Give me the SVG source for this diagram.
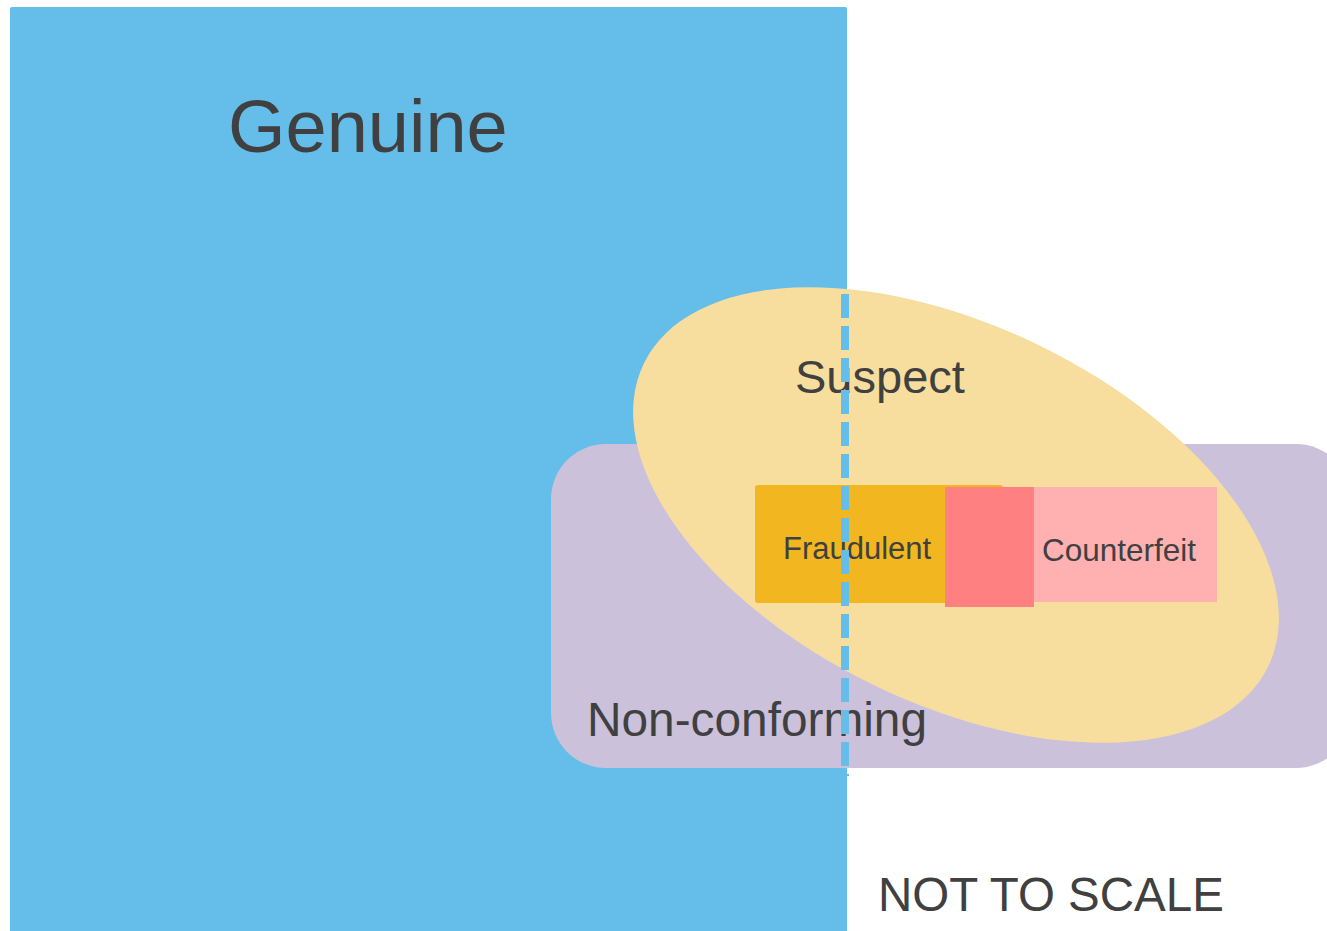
<svg xmlns="http://www.w3.org/2000/svg" width="1327" height="931" viewBox="0 0 1327 931">
<style>
.lbl{font-family:"Liberation Sans",Arial,sans-serif;fill:#404040}
</style>
<rect width="1327" height="931" fill="#ffffff"/>
<g id="genuine">
<rect x="10" y="7" width="837" height="930" rx="2" fill="#65BDE9"/>
<text class="lbl" x="228" y="152" font-size="74">Genuine</text>
</g>
<g id="nonconforming">
<rect x="551" y="444" width="800" height="324" rx="55" fill="#CBC1DB"/>
</g>
<g id="suspect">
<ellipse cx="956" cy="515" rx="347" ry="189" transform="rotate(25.9 956 515)" fill="#F7DE9E"/>
<text class="lbl" x="795" y="393" font-size="47">Suspect</text>
</g>
<g id="fraudulent">
<rect x="755" y="485" width="248" height="118" rx="3" fill="#F1B620"/>
<text class="lbl" x="783" y="559" font-size="31">Fraudulent</text>
</g>
<g id="overlap">
<rect x="945" y="487" width="89" height="120" fill="#FF8080"/>
</g>
<g id="counterfeit">
<rect x="1034" y="487" width="183" height="115" fill="#FFB0B0"/>
<text class="lbl" x="1042" y="561" font-size="31.5">Counterfeit</text>
</g>
<text class="lbl" x="587" y="736" font-size="47.8">Non-conforming</text>
<g id="connectors">
<line x1="845" y1="294" x2="845" y2="776" stroke="#65BDE9" stroke-width="8" stroke-dasharray="24 8"/>
</g>
<text class="lbl" x="878" y="911" font-size="47.5">NOT TO SCALE</text>
</svg>
